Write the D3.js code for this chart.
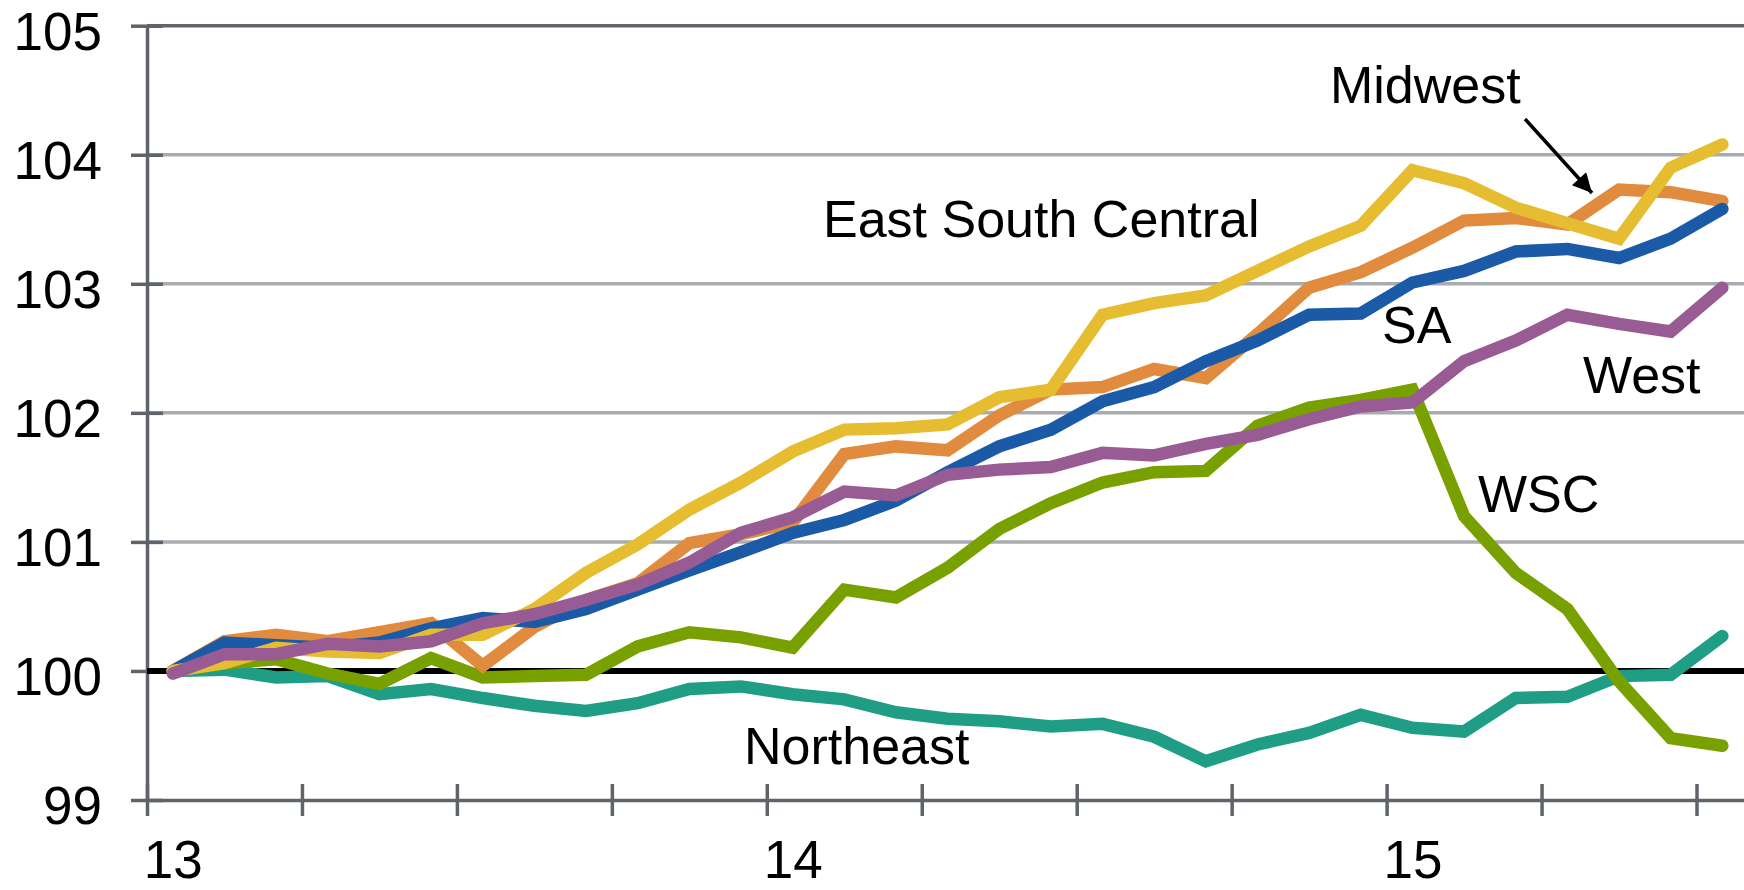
<!DOCTYPE html>
<html>
<head>
<meta charset="utf-8">
<script src="https://cdn.jsdelivr.net/npm/d3@7"></script>
<style>
  html, body { margin: 0; padding: 0; background: #fff; }
  svg { display: block; }
  text { font-family: "Liberation Sans", Arial, sans-serif; fill: #000; }
</style>
</head>
<body>
<div id="chart"></div>
<script>
'use strict';

// Monthly index values, Jan 2013 .. Jul 2015
const months = d3.range(31)
const yearLabels = ['13', '14', '15']
const yearIndex = [0, 12, 24]
const yTicks = [99, 100, 101, 102, 103, 104, 105]

const northeast = [100.00, 100.01, 99.95, 99.96, 99.82, 99.86, 99.79, 99.73, 99.69, 99.75, 99.86, 99.88, 99.82, 99.78, 99.68, 99.63, 99.61, 99.57, 99.59, 99.49, 99.30, 99.43, 99.52, 99.66, 99.56, 99.53, 99.79, 99.80, 99.96, 99.97, 100.27]
const wsc = [100.00, 100.06, 100.09, 99.98, 99.90, 100.10, 99.95, 99.96, 99.97, 100.19, 100.30, 100.26, 100.18, 100.63, 100.57, 100.80, 101.10, 101.30, 101.46, 101.54, 101.55, 101.90, 102.04, 102.10, 102.18, 101.20, 100.76, 100.48, 99.92, 99.48, 99.42]
const midwest = [100.00, 100.23, 100.28, 100.23, 100.30, 100.37, 100.04, 100.34, 100.55, 100.68, 100.99, 101.06, 101.15, 101.68, 101.74, 101.71, 101.98, 102.18, 102.20, 102.34, 102.27, 102.61, 102.97, 103.09, 103.28, 103.49, 103.51, 103.46, 103.73, 103.71, 103.64]
const sa = [100.00, 100.22, 100.20, 100.18, 100.22, 100.33, 100.41, 100.38, 100.48, 100.63, 100.78, 100.92, 101.07, 101.17, 101.32, 101.54, 101.74, 101.87, 102.09, 102.20, 102.40, 102.56, 102.76, 102.77, 103.01, 103.10, 103.25, 103.27, 103.20, 103.35, 103.58]
const esc = [100.00, 100.06, 100.18, 100.15, 100.14, 100.28, 100.28, 100.48, 100.76, 100.98, 101.25, 101.46, 101.70, 101.87, 101.88, 101.91, 102.12, 102.18, 102.76, 102.85, 102.91, 103.10, 103.29, 103.45, 103.88, 103.78, 103.59, 103.47, 103.35, 103.90, 104.08]
const west = [99.98, 100.13, 100.13, 100.21, 100.19, 100.23, 100.37, 100.44, 100.55, 100.67, 100.84, 101.07, 101.19, 101.39, 101.36, 101.52, 101.56, 101.58, 101.69, 101.67, 101.76, 101.83, 101.95, 102.05, 102.08, 102.40, 102.56, 102.76, 102.69, 102.63, 102.97]

// drawing order: last one on top
const series = [
    {name: 'Northeast', values: northeast, color: '#1f9e85'},
    {name: 'WSC', values: wsc, color: '#78a100'},
    {name: 'Midwest', values: midwest, color: '#e08b3d'},
    {name: 'SA', values: sa, color: '#1b5aa7'},
    {name: 'East South Central', values: esc, color: '#e6bc31'},
    {name: 'West', values: west, color: '#985b93'}
]

const width = 1744, height = 890
const axisColor = '#5f636a', gridColor = '#a8abaf'

const svg = d3.select('#chart')
    .append('svg')
    .attr('width', width)
    .attr('height', height)

svg.append('rect').attr('width', width).attr('height', height).attr('fill', '#fff')

const x = d3.scaleLinear().domain([-0.5, 30.5]).range([147, 147 + 31 * 51.65])
const y = d3.scaleLinear().domain([99, 105]).range([800, 25.7])

// gridlines
svg.append('g')
    .selectAll('line')
    .data(yTicks.filter(d => d !== 99 && d !== 100))
    .join('line')
    .attr('x1', 147)
    .attr('x2', width)
    .attr('y1', d => y(d))
    .attr('y2', d => y(d))
    .attr('stroke', d => d === 105 ? axisColor : gridColor)
    .attr('stroke-width', 3.5)

// y axis
const yAxis = svg.append('g')
    .attr('transform', `translate(${x(-0.5)},0)`)
    .call(d3.axisLeft(y).tickValues(yTicks).tickSize(16).tickSizeOuter(0).tickPadding(29)
        .tickFormat(d3.format('d')))
yAxis.select('.domain').attr('stroke', axisColor).attr('stroke-width', 3.5)
yAxis.selectAll('.tick line').attr('x1', 16).attr('stroke', axisColor).attr('stroke-width', 3.5)
yAxis.selectAll('.tick text')
    .attr('dy', '0.44em')
    .style('font-size', '53px')
    .style('font-family', '"Liberation Sans", Arial, sans-serif')
    .attr('fill', '#000')

// x axis: quarter ticks between months
const xAxis = svg.append('g')
    .attr('transform', `translate(0,${y(99)})`)
    .call(d3.axisBottom(x).tickValues(d3.range(-0.5, 30, 3)).tickSize(16).tickSizeOuter(0).tickFormat(''))
xAxis.select('.domain').attr('stroke', axisColor).attr('stroke-width', 3.5)
xAxis.selectAll('.tick line').attr('y1', -16).attr('stroke', axisColor).attr('stroke-width', 3.5)

const xLabels = svg.append('g')
    .attr('transform', `translate(0,${y(99)})`)
    .call(d3.axisBottom(x).tickValues(yearIndex).tickSize(0).tickPadding(40)
        .tickFormat((d, i) => yearLabels[i]))
xLabels.select('.domain').remove()
xLabels.selectAll('.tick text')
    .style('font-size', '53px')
    .style('font-family', '"Liberation Sans", Arial, sans-serif')
    .attr('fill', '#000')

// reference line at 100
svg.append('line')
    .attr('x1', x(-0.5))
    .attr('x2', width)
    .attr('y1', y(100))
    .attr('y2', y(100))
    .attr('stroke', '#000')
    .attr('stroke-width', 6)

const line = d3.line()
    .x((d, i) => x(months[i]))
    .y(d => y(d))

svg.append('g')
    .selectAll('path')
    .data(series)
    .join('path')
    .attr('fill', 'none')
    .attr('stroke', d => d.color)
    .attr('stroke-width', 12.5)
    .attr('stroke-linejoin', 'miter')
    .attr('stroke-linecap', 'round')
    .attr('d', d => line(d.values))

// series labels
const labels = [
    {text: 'Midwest', x: 1330, y: 103},
    {text: 'East South Central', x: 823, y: 237},
    {text: 'SA', x: 1382, y: 343},
    {text: 'West', x: 1583, y: 393},
    {text: 'WSC', x: 1478, y: 512},
    {text: 'Northeast', x: 744, y: 764}
]

svg.append('g')
    .selectAll('text')
    .data(labels)
    .join('text')
    .attr('x', d => d.x)
    .attr('y', d => d.y)
    .style('font-size', '52px')
    .text(d => d.text)

// arrow for Midwest
svg.append('defs').append('marker')
    .attr('id', 'arrow')
    .attr('viewBox', '0 0 10 10')
    .attr('refX', 10)
    .attr('refY', 5)
    .attr('markerWidth', 7)
    .attr('markerHeight', 5.5)
    .attr('markerUnits', 'strokeWidth')
    .attr('orient', 'auto')
    .append('path')
    .attr('d', 'M0,0L10,5L0,10Z')
    .attr('fill', '#000')

svg.append('line')
    .attr('x1', 1525)
    .attr('y1', 119)
    .attr('x2', 1592)
    .attr('y2', 193)
    .attr('stroke', '#000')
    .attr('stroke-width', 3.5)
    .attr('marker-end', 'url(#arrow)')
</script>
</body>
</html>
